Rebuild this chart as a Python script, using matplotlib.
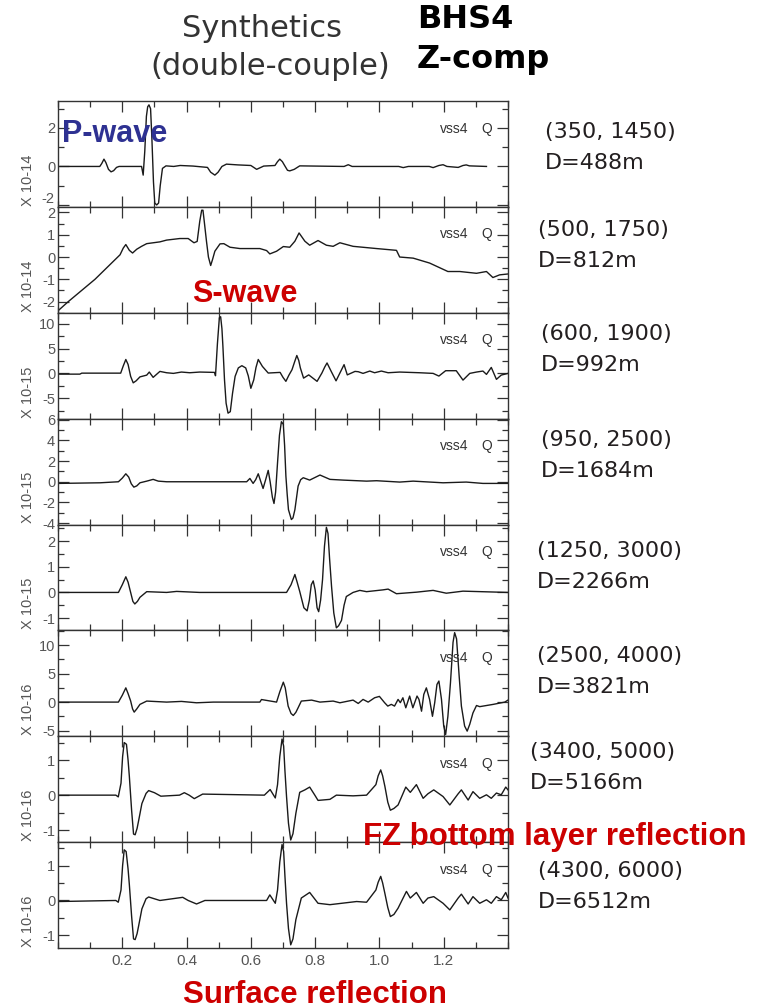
import matplotlib
matplotlib.use("Agg")
import matplotlib.pyplot as plt
from matplotlib.ticker import MultipleLocator, FormatStrFormatter, FixedFormatter

plt.rcParams['axes.unicode_minus'] = False

# (time s, amplitude) pairs
p1 = [(0.006, 0), (0.13, 0), (0.136, 0.15), (0.143, 0.38), (0.149, 0.2), (0.157, -0.15),
      (0.165, -0.28), (0.173, -0.22), (0.182, -0.05), (0.19, 0), (0.26, 0), (0.265, -0.45),
      (0.27, 0.8), (0.275, 2.6), (0.279, 3.1), (0.283, 3.2), (0.288, 3.0), (0.292, 1.5),
      (0.297, -0.8), (0.301, -1.9), (0.307, -2.0), (0.313, -1.9), (0.318, -1.0), (0.325, -0.1),
      (0.336, 0.03), (0.36, 0.0), (0.38, 0.05), (0.42, 0.02), (0.465, -0.05), (0.475, -0.3),
      (0.488, -0.45), (0.498, -0.3), (0.51, 0.0), (0.524, 0.12), (0.56, 0.08), (0.6, 0.05),
      (0.618, -0.15), (0.64, 0.02), (0.675, 0.05), (0.683, 0.25), (0.69, 0.38), (0.698, 0.25),
      (0.705, 0.05), (0.714, -0.2), (0.721, -0.23), (0.735, -0.15), (0.752, 0.03), (0.89, 0.0),
      (0.903, 0.09), (0.915, 0.0), (1.06, 0.0), (1.074, -0.06), (1.09, 0.0), (1.155, 0.0),
      (1.167, -0.06), (1.185, 0.05), (1.198, 0.09), (1.21, 0.0), (1.245, -0.05), (1.26, 0.05),
      (1.27, 0.08), (1.28, 0.03), (1.333, 0.0)]

p2 = [(0.001, -2.4), (0.032, -2.0), (0.115, -1.0), (0.193, 0.1), (0.203, 0.4), (0.211, 0.56),
      (0.222, 0.3), (0.232, 0.18), (0.245, 0.35), (0.26, 0.48), (0.276, 0.6), (0.317, 0.68),
      (0.338, 0.76), (0.379, 0.83), (0.405, 0.83), (0.423, 0.64), (0.433, 0.7), (0.441, 1.6),
      (0.447, 2.1), (0.451, 2.1), (0.455, 1.6), (0.462, 0.7), (0.468, 0.0), (0.475, -0.38),
      (0.481, -0.1), (0.488, 0.26), (0.504, 0.59), (0.516, 0.6), (0.535, 0.44), (0.566, 0.38),
      (0.628, 0.38), (0.649, 0.29), (0.659, 0.14), (0.68, 0.26), (0.701, 0.47), (0.721, 0.44),
      (0.737, 0.71), (0.75, 1.08), (0.768, 0.71), (0.783, 0.53), (0.809, 0.74), (0.835, 0.53),
      (0.856, 0.48), (0.877, 0.64), (0.918, 0.48), (0.991, 0.38), (1.053, 0.3), (1.063, 0.0),
      (1.105, -0.05), (1.156, -0.27), (1.213, -0.65), (1.25, -0.65), (1.302, -0.73),
      (1.333, -0.65), (1.353, -0.92), (1.374, -0.8), (1.4, -0.76)]

p3 = [(0.001, -0.15), (0.068, -0.15), (0.074, 0.05), (0.195, 0.05), (0.203, 1.5), (0.211, 2.8),
      (0.218, 1.8), (0.226, -0.6), (0.234, -1.9), (0.243, -1.5), (0.255, -0.7), (0.276, -0.35),
      (0.284, 0.27), (0.296, -0.8), (0.317, 0.4), (0.338, 0.13), (0.359, 0.0), (0.384, 0.27),
      (0.41, 0.13), (0.441, 0.27), (0.487, 0.2), (0.49, -0.47), (0.496, 6.0), (0.502, 11.2),
      (0.506, 11.4), (0.51, 9.0), (0.513, 5.5), (0.518, -1.3), (0.523, -6.0), (0.529, -8.0),
      (0.536, -7.7), (0.543, -4.0), (0.551, -0.6), (0.561, 1.1), (0.572, 1.55), (0.584, 1.1),
      (0.592, -0.5), (0.6, -3.0), (0.609, -1.3), (0.616, 1.2), (0.623, 2.8), (0.636, 1.4),
      (0.654, 0.07), (0.691, 0.2), (0.7, -0.8), (0.709, -1.6), (0.718, -0.4), (0.728, 0.74),
      (0.736, 2.3), (0.743, 3.6), (0.749, 2.6), (0.754, 1.1), (0.764, -0.95), (0.78, -0.3),
      (0.806, -1.6), (0.821, 0.07), (0.83, 1.3), (0.837, 2.1), (0.85, 0.4), (0.865, -1.5),
      (0.877, 0.07), (0.89, 1.76), (0.9, -0.3), (0.924, 0.4), (0.934, 0.34), (0.949, 0.0),
      (0.97, 0.47), (0.985, 0.13), (1.006, 0.47), (1.027, 0.13), (1.063, 0.27), (1.125, 0.13),
      (1.167, 0.0), (1.185, -0.54), (1.206, 0.54), (1.239, 0.54), (1.26, -1.35), (1.281, 0.0),
      (1.302, 0.27), (1.322, 0.47), (1.333, -0.2), (1.348, 1.2), (1.364, -1.2), (1.379, -0.34),
      (1.4, 0.0)]

p4 = [(0.001, -0.16), (0.131, -0.1), (0.188, 0.0), (0.2, 0.35), (0.211, 0.77), (0.22, 0.45),
      (0.228, -0.2), (0.236, -0.52), (0.245, -0.4), (0.255, -0.1), (0.276, 0.06), (0.296, 0.23),
      (0.312, 0.06), (0.338, 0.0), (0.587, 0.0), (0.597, 0.32), (0.607, -0.16), (0.615, 0.2),
      (0.623, 0.77), (0.63, 0.1), (0.638, -0.65), (0.646, 0.2), (0.654, 1.1), (0.66, 0.0),
      (0.667, -1.5), (0.672, -2.1), (0.677, -1.0), (0.683, 1.84), (0.689, 4.5), (0.695, 5.8),
      (0.701, 5.55), (0.705, 3.5), (0.709, 0.55), (0.713, -1.2), (0.717, -2.7), (0.726, -3.65),
      (0.731, -3.5), (0.737, -2.7), (0.747, -0.42), (0.755, 0.2), (0.763, 0.39), (0.783, 0.16),
      (0.815, 0.65), (0.846, 0.23), (0.887, 0.16), (0.96, 0.06), (0.991, 0.1), (1.063, -0.03),
      (1.105, 0.06), (1.198, -0.1), (1.27, -0.03), (1.322, -0.16), (1.4, -0.16)]

p5 = [(0.001, 0.0), (0.188, 0.0), (0.2, 0.3), (0.211, 0.61), (0.218, 0.4), (0.226, 0.0),
      (0.233, -0.35), (0.239, -0.45), (0.247, -0.35), (0.255, -0.19), (0.276, 0.03), (0.338, 0.0),
      (0.369, 0.04), (0.441, 0.0), (0.711, 0.0), (0.725, 0.3), (0.737, 0.7), (0.744, 0.4),
      (0.752, 0.04), (0.765, -0.6), (0.775, -0.72), (0.782, -0.3), (0.788, 0.3), (0.794, 0.45),
      (0.8, 0.1), (0.806, -0.6), (0.811, -0.75), (0.817, -0.3), (0.823, 0.5), (0.829, 1.8),
      (0.835, 2.54), (0.84, 2.3), (0.845, 1.3), (0.851, 0.24), (0.858, -0.8), (0.866, -1.38),
      (0.873, -1.3), (0.882, -1.09), (0.89, -0.5), (0.897, -0.16), (0.918, 0.0), (0.939, 0.08),
      (0.96, 0.03), (1.011, 0.1), (1.027, 0.13), (1.053, -0.05), (1.115, 0.01), (1.167, 0.08),
      (1.208, -0.03), (1.26, 0.05), (1.4, 0.0)]

p6 = [(0.001, 0.0), (0.188, 0.0), (0.2, 1.2), (0.211, 2.5), (0.218, 1.5), (0.226, 0.2),
      (0.232, -1.2), (0.237, -1.76), (0.245, -1.2), (0.255, -0.4), (0.276, 0.18), (0.338, 0.0),
      (0.384, 0.12), (0.431, -0.12), (0.483, 0.0), (0.628, 0.0), (0.633, 0.45), (0.68, 0.0),
      (0.69, 1.8), (0.701, 3.5), (0.707, 2.5), (0.716, -0.7), (0.725, -2.0), (0.732, -2.35),
      (0.74, -1.8), (0.747, -1.0), (0.757, 0.18), (0.789, 0.35), (0.815, 0.0), (0.856, 0.18),
      (0.877, -0.12), (0.918, 0.35), (0.934, -0.24), (0.949, 0.47), (0.965, 0.0), (0.985, 0.76),
      (1.0, 1.0), (1.016, -0.1), (1.026, -0.7), (1.037, -0.4), (1.047, -0.7), (1.058, 0.47),
      (1.065, -0.1), (1.073, 0.76), (1.082, -1.0), (1.094, 1.06), (1.104, -1.0), (1.117, 1.06),
      (1.123, 0.47), (1.131, -1.6), (1.138, 1.35), (1.146, 2.5), (1.156, 0.47), (1.165, -2.5),
      (1.172, -0.1), (1.179, 3.1), (1.185, 3.7), (1.193, 0.5), (1.2, -4.2), (1.206, -5.7),
      (1.213, -2.5), (1.221, 3.4), (1.229, 10.5), (1.234, 12.2), (1.24, 11.1), (1.248, 4.6),
      (1.255, -0.7), (1.265, -4.2), (1.273, -5.1), (1.281, -3.9), (1.291, -1.9), (1.302, -0.6),
      (1.312, -0.8), (1.354, -0.4), (1.39, 0.0), (1.4, 0.35)]

p7 = [(0.001, 0.0), (0.18, 0.0), (0.1875, -0.05), (0.196, 0.34), (0.201, 1.1), (0.206, 1.5),
      (0.213, 1.45), (0.218, 1.0), (0.222, 0.53), (0.229, -0.43), (0.235, -1.11), (0.24, -1.13),
      (0.246, -0.95), (0.251, -0.72), (0.261, -0.24), (0.274, 0.05), (0.282, 0.13), (0.3, 0.07),
      (0.32, -0.03), (0.378, 0.0), (0.393, 0.07), (0.408, 0.0), (0.424, -0.1), (0.45, 0.03),
      (0.642, 0.0), (0.66, 0.16), (0.676, -0.08), (0.683, 0.3), (0.69, 1.1), (0.697, 1.6),
      (0.702, 1.4), (0.706, 0.7), (0.711, -0.04), (0.717, -0.8), (0.724, -1.28), (0.731, -1.1),
      (0.74, -0.52), (0.752, 0.08), (0.768, 0.15), (0.783, 0.23), (0.799, 0.0), (0.809, -0.15),
      (0.846, -0.12), (0.866, 0.0), (0.918, -0.02), (0.96, 0.0), (0.989, 0.3), (0.996, 0.55),
      (1.004, 0.72), (1.01, 0.55), (1.017, 0.25), (1.026, -0.2), (1.034, -0.43), (1.045, -0.38),
      (1.058, -0.28), (1.082, 0.23), (1.096, 0.08), (1.115, 0.3), (1.136, -0.09), (1.151, 0.04),
      (1.169, 0.15), (1.198, -0.04), (1.219, -0.28), (1.245, 0.04), (1.255, 0.15), (1.276, -0.14),
      (1.291, 0.1), (1.312, -0.09), (1.333, 0.01), (1.348, -0.09), (1.364, 0.06), (1.379, 0.01),
      (1.393, 0.23), (1.4, 0.15)]

p8 = [(0.001, -0.03), (0.18, 0.0), (0.1875, -0.05), (0.196, 0.3), (0.201, 1.0), (0.206, 1.45),
      (0.212, 1.4), (0.218, 0.9), (0.222, 0.45), (0.229, -0.45), (0.235, -1.1), (0.24, -1.12),
      (0.246, -0.95), (0.251, -0.72), (0.261, -0.24), (0.274, 0.05), (0.282, 0.1), (0.317, 0.0),
      (0.388, 0.09), (0.405, 0.0), (0.431, -0.1), (0.457, 0.0), (0.649, 0.0), (0.659, 0.16),
      (0.676, -0.08), (0.683, 0.3), (0.69, 1.1), (0.697, 1.6), (0.702, 1.4), (0.706, 0.7),
      (0.711, -0.08), (0.717, -0.8), (0.724, -1.27), (0.731, -1.1), (0.74, -0.55), (0.757, 0.07),
      (0.783, 0.23), (0.809, -0.08), (0.846, -0.12), (0.929, -0.03), (0.96, -0.05), (0.989, 0.3),
      (0.996, 0.52), (1.004, 0.69), (1.01, 0.5), (1.017, 0.2), (1.026, -0.2), (1.034, -0.46),
      (1.045, -0.4), (1.058, -0.22), (1.084, 0.26), (1.096, 0.07), (1.115, 0.23), (1.136, -0.08),
      (1.151, 0.07), (1.169, 0.11), (1.198, -0.08), (1.219, -0.27), (1.245, 0.07), (1.255, 0.18),
      (1.276, -0.1), (1.291, 0.11), (1.312, -0.08), (1.333, 0.02), (1.348, -0.08), (1.364, 0.11),
      (1.379, 0.02), (1.393, 0.23), (1.4, 0.07)]

traces = [p1, p2, p3, p4, p5, p6, p7, p8]
ylims = [(-2.1, 3.4), (-2.5, 2.25), (-9.1, 12.2), (-4.13, 6.1),
         (-1.48, 2.65), (-6.0, 12.6), (-1.34, 1.68), (-1.36, 1.67)]
ymajor = [2, 1, 5, 2, 1, 5, 1, 1]
yminor = [1, 0.5, 2.5, 1, 0.5, 2.5, 0.5, 0.5]
scale_labels = ["X 10-14", "X 10-14", "X 10-15", "X 10-15",
                "X 10-15", "X 10-16", "X 10-16", "X 10-16"]
xticks = [0.2, 0.4, 0.6, 0.8, 1.0, 1.2]

stations = ["(350, 1450)", "(500, 1750)", "(600, 1900)", "(950, 2500)",
            "(1250, 3000)", "(2500, 4000)", "(3400, 5000)", "(4300, 6000)"]
distances = ["D=488m", "D=812m", "D=992m", "D=1684m",
             "D=2266m", "D=3821m", "D=5166m", "D=6512m"]
# label anchor positions in pixels (x, baseline of first line)
label_pos = [(545, 138), (538, 236), (541, 340), (541, 446),
             (537, 557), (537, 662), (530, 758), (538, 877)]

W, H = 762, 1008
fx = lambda px: px / W
fy = lambda py: 1 - py / H

fig, axes = plt.subplots(8, 1, sharex=True, figsize=(W / 100, H / 100), dpi=100)
fig.subplots_adjust(left=fx(58), right=fx(508), top=fy(101), bottom=fy(948), hspace=0)

for i, ax in enumerate(axes):
    t = [p[0] for p in traces[i]]
    v = [p[1] for p in traces[i]]
    ax.plot(t, v, color='#1a1a1a', lw=1.0)
    ax.set_xlim(0, 1.4)
    ax.set_ylim(*ylims[i])
    ax.yaxis.set_major_locator(MultipleLocator(ymajor[i]))
    ax.yaxis.set_minor_locator(MultipleLocator(yminor[i]))
    ax.yaxis.set_major_formatter(FormatStrFormatter('%g'))
    ax.set_xticks(xticks)
    ax.xaxis.set_minor_locator(MultipleLocator(0.1))
    ax.xaxis.set_major_formatter(FormatStrFormatter('%.1f'))
    ax.tick_params(which='both', direction='in', top=True, right=True,
                   color='#333333', labelcolor='#555555', pad=2,
                   labelfontfamily='Liberation Sans', labelsize=10.5)
    ax.tick_params(which='major', length=8, width=0.9)
    ax.tick_params(which='minor', length=4, width=0.9)
    for s in ax.spines.values():
        s.set_color('#333333')
        s.set_linewidth(1.0)
    ax.text(-0.067, 0.01, scale_labels[i], transform=ax.transAxes, rotation=90,
            ha='center', va='bottom', fontsize=10.5, color='#555555',
            family='Liberation Sans')
    ax.text(0.849, 0.74, 'vss4', transform=ax.transAxes, va='center',
            fontsize=10, color='#333333', family='Liberation Sans')
    ax.text(0.953, 0.74, 'Q', transform=ax.transAxes, va='center', ha='center',
            fontsize=10, color='#333333', family='Liberation Sans')
    if i < 7:
        ax.tick_params(labelbottom=False)

# top panel: -2 sits on the bottom edge, drawn just above it so it clears panel 2's "2"
ax0 = axes[0]
ax0.set_yticks([-2, 0, 2])
ax0.yaxis.set_major_formatter(FixedFormatter(['', '0', '2']))
ax0.text(-0.007, 0.004, '-2', transform=ax0.transAxes, ha='right', va='bottom',
         fontsize=10.5, color='#555555', family='Liberation Sans')

axes[-1].tick_params(axis='x', pad=4, labelsize=11)

# titles
fig.text(fx(262), fy(37), "Synthetics", ha='center', va='baseline',
         fontsize=22, color='#333333', family='DejaVu Sans')
fig.text(fx(270), fy(75), "(double-couple)", ha='center', va='baseline',
         fontsize=22, color='#333333', family='DejaVu Sans')
fig.text(fx(417), fy(28), "BHS4", ha='left', va='baseline',
         fontsize=23, fontweight='bold', color='black', family='DejaVu Sans')
fig.text(fx(417), fy(68), "Z-comp", ha='left', va='baseline',
         fontsize=23, fontweight='bold', color='black', family='DejaVu Sans')

# station labels
for (x0, y0), st, d in zip(label_pos, stations, distances):
    fig.text(fx(x0), fy(y0), st, ha='left', va='baseline', fontsize=16,
             color='#231f20', family='DejaVu Sans')
    fig.text(fx(x0), fy(y0 + 31), d, ha='left', va='baseline', fontsize=16,
             color='#231f20', family='DejaVu Sans')

# phase annotations
fig.text(fx(62), fy(142), "P-wave", ha='left', va='baseline', fontsize=22,
         fontweight='bold', color='#2e3192', family='Liberation Sans')
fig.text(fx(192), fy(302), "S-wave", ha='left', va='baseline', fontsize=22,
         fontweight='bold', color='#cc0000', family='Liberation Sans')
fig.text(fx(363), fy(845), "FZ bottom layer reflection", ha='left', va='baseline',
         fontsize=22.5, fontweight='bold', color='#cc0000', family='Liberation Sans')
fig.text(fx(183), fy(1003), "Surface reflection", ha='left', va='baseline',
         fontsize=22.5, fontweight='bold', color='#cc0000', family='Liberation Sans')

fig.savefig("out.png", dpi=100)
